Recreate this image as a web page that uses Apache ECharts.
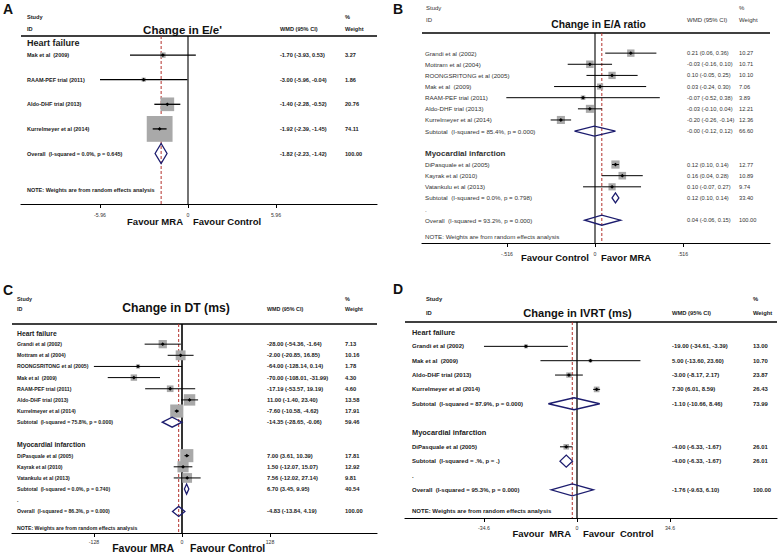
<!DOCTYPE html>
<html><head><meta charset="utf-8">
<script src="https://cdn.jsdelivr.net/npm/echarts@6/dist/echarts.min.js"></script>
<style>html,body{margin:0;padding:0;background:#fff}#main{width:778px;height:554px}</style>
</head><body><div id="main"></div>
<script>
// ================= DATA =================
const NOTE = "NOTE: Weights are from random effects analysis";

// Panel A : Change in E/e'
const A_labels = ["Heart failure","Mak et al  (2009)","RAAM-PEF trial (2011)","Aldo-DHF trial (2013)","Kurrelmeyer et al (2014)","Overall  (I-squared = 0.0%, p = 0.645)",NOTE];
const A_kind   = ["head","study","study","study","study","overall","note"];
const A_est    = [null,-1.70,-3.00,-1.40,-1.92,-1.82,null];
const A_lo     = [null,-3.93,-5.96,-2.28,-2.39,-2.23,null];
const A_hi     = [null, 0.53,-0.04,-0.52,-1.45,-1.42,null];
const A_wt     = [null, 3.27, 1.86,20.76,74.11,100.00,null];
const A_ticks  = [-5.96,0,5.96];
const A_tickLabels = ["-5.96","0","5.96"];

// Panel B : Change in E/A ratio
const B_labels = ["","Grandi et al (2002)","Mottram et al (2004)","ROONGSRITONG et al (2005)","Mak et al  (2009)","RAAM-PEF trial (2011)","Aldo-DHF trial (2013)","Kurrelmeyer et al (2014)","Subtotal  (I-squared = 85.4%, p = 0.000)","","Myocardial infarction","DiPasquale et al (2005)","Kayrak et al (2010)","Vatankulu et al (2013)","Subtotal  (I-squared = 0.0%, p = 0.798)",".","Overall  (I-squared = 93.2%, p = 0.000)",NOTE];
const B_kind   = ["blank","study","study","study","study","study","study","study","sub","blank","head","study","study","study","sub","dot","overall","note"];
const B_est    = [null,0.21,-0.03,0.10,0.03,-0.07,-0.03,-0.20,-0.004,null,null,0.12,0.16,0.10,0.12,null,0.04,null];
const B_lo     = [null,0.06,-0.16,-0.05,-0.24,-0.52,-0.10,-0.26,-0.12,null,null,0.10,0.04,-0.07,0.10,null,-0.06,null];
const B_hi     = [null,0.36,0.10,0.25,0.30,0.38,0.04,-0.14,0.12,null,null,0.14,0.28,0.27,0.14,null,0.15,null];
const B_wt     = [null,10.27,10.71,10.10,7.06,3.89,12.21,12.36,66.60,null,null,12.77,10.89,9.74,33.40,null,100.00,null];
const B_ticks  = [-0.516,0,0.516];
const B_tickLabels = ["-.516","0",".516"];

// Panel C : Change in DT (ms)
const C_labels = ["Heart failure","Grandi et al (2002)","Mottram et al (2004)","ROONGSRITONG et al (2005)","Mak et al  (2009)","RAAM-PEF trial (2011)","Aldo-DHF trial (2013)","Kurrelmeyer et al (2014)","Subtotal  (I-squared = 75.8%, p = 0.000)","","Myocardial infarction","DiPasquale et al (2005)","Kayrak et al (2010)","Vatankulu et al (2013)","Subtotal  (I-squared = 0.0%, p = 0.740)",".","Overall  (I-squared = 86.3%, p = 0.000)",NOTE];
const C_kind   = ["head","study","study","study","study","study","study","study","sub","blank","head","study","study","study","sub","dot","overall","note"];
const C_est    = [null,-28.00,-2.00,-64.00,-70.00,-17.19,11.00,-7.60,-14.35,null,null,7.00,1.50,7.56,6.70,null,-4.83,null];
const C_lo     = [null,-54.36,-20.85,-128.14,-108.01,-53.57,-1.40,-10.58,-28.65,null,null,3.61,-12.07,-12.02,3.45,null,-13.84,null];
const C_hi     = [null,-1.64,16.85,0.14,-31.99,19.19,23.40,-4.62,-0.06,null,null,10.39,15.07,27.14,9.95,null,4.19,null];
const C_wt     = [null,7.13,10.16,1.78,4.30,4.60,13.58,17.91,59.46,null,null,17.81,12.92,9.81,40.54,null,100.00,null];
const C_ticks  = [-128,0,128];
const C_tickLabels = ["-128","0","128"];

// Panel D : Change in IVRT (ms)
const D_labels = ["Heart failure","Grandi et al (2002)","Mak et al  (2009)","Aldo-DHF trial (2013)","Kurrelmeyer et al (2014)","Subtotal  (I-squared = 87.9%, p = 0.000)","","Myocardial infarction","DiPasquale et al (2005)","Subtotal  (I-squared = .%, p = .)",".","Overall  (I-squared = 95.3%, p = 0.000)",NOTE];
const D_kind   = ["head","study","study","study","study","sub","blank","head","study","sub","dot","overall","note"];
const D_est    = [null,-19.00,5.00,-3.00,7.30,-1.10,null,null,-4.00,-4.00,null,-1.76,null];
const D_lo     = [null,-34.61,-13.60,-8.17,6.01,-10.66,null,null,-6.33,-6.33,null,-9.63,null];
const D_hi     = [null,-3.39,23.60,2.17,8.59,8.46,null,null,-1.67,-1.67,null,6.10,null];
const D_wt     = [null,13.00,10.70,23.87,26.43,73.99,null,null,26.01,26.01,null,100.00,null];
const D_ticks  = [-34.6,0,34.6];
const D_tickLabels = ["-34.6","0","34.6"];

// ================= LAYOUT =================
const FONT = '"Liberation Sans", Arial, Helvetica, sans-serif';
const panels = [
  {letter:"A", title:"Change in E/e'", labels:A_labels, kind:A_kind, est:A_est, lo:A_lo, hi:A_hi, wt:A_wt, ticks:A_ticks, tickLabels:A_tickLabels,
   favL:"Favour MRA", favR:"Favour Control",
   L:{letterX:3,letterY:2,y0:30.5,step:24.6,headShift:0.5,hdrY:36,axisY:204,zero:188,tickPx:276,axL:21,axR:377,
      nameX:27,hdrX:27,wmdX:280,wtX:345,studyY:17,idY:29,titleX:182.5,titleY:30,titleSize:11.5,favY:221,favGap:5,
      rowFont:5.5,numFont:5.6,txtWeight:'bold',txtColor:'#1a1a1a',headFont:9,hdrFont:5.6,boxK:3.0,favFont:9.5,tickFont:5.2,tickMargin:8,diaH:10,zeroW:1.1,ciW:1.3}},
  {letter:"B", title:"Change in E/A ratio", labels:B_labels, kind:B_kind, est:B_est, lo:B_lo, hi:B_hi, wt:B_wt, ticks:B_ticks, tickLabels:B_tickLabels,
   favL:"Favour Control", favR:"Favor MRA",
   L:{letterX:393,letterY:2,y0:42,step:11.14,headShift:0,hdrY:33,axisY:243,zero:595,tickPx:683,axL:422,axR:770,
      nameX:425,hdrX:426,wmdX:687,wtX:739,studyY:8,idY:20,titleX:598.5,titleY:24,titleSize:10.3,favY:257,favGap:6,
      rowFont:6.2,numFont:5.7,txtWeight:'normal',txtColor:'#333',headFont:8,hdrFont:6.0,boxK:2.3,favFont:9.5,tickFont:5.2,tickMargin:8,diaH:5,zeroW:1.1,ciW:1}},
  {letter:"C", title:"Change in DT (ms)", labels:C_labels, kind:C_kind, est:C_est, lo:C_lo, hi:C_hi, wt:C_wt, ticks:C_ticks, tickLabels:C_tickLabels,
   favL:"Favour MRA", favR:"Favour Control",
   L:{letterX:3,letterY:283,y0:333,step:11.15,headShift:0,hdrY:324,axisY:533,zero:182,tickPx:270,axL:12,axR:377,
      nameX:17,hdrX:17,wmdX:267,wtX:345,studyY:299,idY:309,titleX:176,titleY:308,titleSize:12.2,favY:548,favGap:8,
      rowFont:5.2,numFont:5.8,txtWeight:'bold',txtColor:'#222',headFont:6.8,hdrFont:5.4,boxK:3.1,favFont:10.5,tickFont:5.2,tickMargin:6,diaH:5,zeroW:1.6,ciW:1}},
  {letter:"D", title:"Change in IVRT (ms)", labels:D_labels, kind:D_kind, est:D_est, lo:D_lo, hi:D_hi, wt:D_wt, ticks:D_ticks, tickLabels:D_tickLabels,
   favL:"Favour  MRA", favR:"Favour  Control",
   L:{letterX:393,letterY:282,y0:332,step:14.35,headShift:0,hdrY:322,axisY:518,zero:577,tickPx:670,axL:405,axR:777,
      nameX:412,hdrX:426,wmdX:672,wtX:753,studyY:299,idY:313,titleX:577.5,titleY:313,titleSize:11.1,favY:533,favGap:6,
      rowFont:6.0,numFont:5.9,txtWeight:'bold',txtColor:'#222',headFont:7.4,hdrFont:5.8,boxK:1.1,favFont:9.5,tickFont:5.2,tickMargin:7,diaH:6,zeroW:1.3,ciW:1}}
];

const fmt = v => v.toFixed(2);
const opt = {animation:false, backgroundColor:'#fff', grid:[], xAxis:[], yAxis:[], series:[], graphic:[], title:[]};

function gText(x, y, text, size, weight, align, color){
  return {type:'text', x:x, y:y, silent:true,
    style:{text:text, fontSize:size, fontWeight:weight||'normal', fontFamily:FONT, fill:color||'#1a1a1a',
           align:align||'left', textAlign:align||'left', verticalAlign:'middle', textVerticalAlign:'middle'}};
}

panels.forEach((p, gi) => {
  const L = p.L;
  const scale = (L.tickPx - L.zero) / p.ticks[2];
  const xMin = (L.axL - L.zero) / scale, xMax = (L.axR - L.zero) / scale;
  const yMin = (L.hdrY - L.y0) / L.step, yMax = (L.axisY - L.y0) / L.step;
  opt.grid.push({left:L.axL, top:L.hdrY, width:L.axR - L.axL, height:L.axisY - L.hdrY, containLabel:false, outerBoundsMode:'none'});
  opt.xAxis.push({gridIndex:gi, type:'value', min:xMin, max:xMax, position:'bottom',
    axisLine:{show:true, onZero:false, lineStyle:{color:'#000', width:1.2}},
    axisTick:{show:true, customValues:p.ticks, length:4, lineStyle:{color:'#000', width:1}},
    axisLabel:{show:true, customValues:p.ticks, margin:L.tickMargin, fontSize:L.tickFont, color:'#333', fontFamily:FONT,
      formatter: v => { const k = p.ticks.findIndex(t => Math.abs(t - v) < 1e-6); return k >= 0 ? p.tickLabels[k] : ''; }},
    splitLine:{show:false}});
  opt.yAxis.push({gridIndex:gi, type:'value', inverse:true, min:yMin, max:yMax, show:false});

  const pos = p.kind.map((k, i) => i + (k === 'note' ? 0.5 : 0) + (k === 'head' ? L.headShift : 0));
  const ovIdx = p.kind.indexOf('overall');

  opt.series.push({type:'custom', xAxisIndex:gi, yAxisIndex:gi, clip:false, silent:true, z:3,
    encode:{x:0, y:1},
    data: p.kind.map((k, i) => [p.est[i] == null ? 0 : p.est[i], pos[i], p.lo[i] == null ? 0 : p.lo[i], p.hi[i] == null ? 0 : p.hi[i], p.wt[i] == null ? 0 : p.wt[i]]),
    renderItem: (params, api) => {
      const i = params.dataIndex, k = p.kind[i];
      const y = api.coord([0, pos[i]])[1];
      const ch = [];
      if (i === 0) {
        // reference lines: no effect (0) and pooled overall estimate, full plot height
        const cs = params.coordSys, top = cs.y, bot = cs.y + cs.height;
        const x0 = api.coord([0, pos[i]])[0];
        const xo = api.coord([p.est[ovIdx], pos[i]])[0];
        ch.push({type:'line', shape:{x1:x0, y1:top, x2:x0, y2:bot}, style:{stroke:'#000', lineWidth:L.zeroW}});
        ch.push({type:'line', shape:{x1:xo, y1:top, x2:xo, y2:bot}, style:{stroke:'#b3312c', lineWidth:1, lineDash:[3,2]}});
      }
      const t = (x, text, size, weight) => ({type:'text', style:{x:x, y:y, text:text, fontSize:size, fontWeight:weight||L.txtWeight, fontFamily:FONT, fill:L.txtColor, align:'left', verticalAlign:'middle'}});
      if (k === 'head') ch.push(t(L.nameX, p.labels[i], L.headFont, 'bold'));
      else if (k === 'dot' || k === 'note') ch.push(t(L.nameX, p.labels[i], L.rowFont));
      else if (k === 'study' || k === 'sub' || k === 'overall') {
        const cx = api.coord([p.est[i], pos[i]])[0];
        const xl = api.coord([p.lo[i], pos[i]])[0];
        const xh = api.coord([p.hi[i], pos[i]])[0];
        if (k === 'study') {
          const s = L.boxK * Math.sqrt(p.wt[i]);
          ch.push({type:'rect', shape:{x:cx - s/2, y:y - s/2, width:s, height:s}, style:{fill:'#a9a9a9'}});
          ch.push({type:'line', shape:{x1:xl, y1:y, x2:xh, y2:y}, style:{stroke:'#000', lineWidth:L.ciW}});
          ch.push({type:'polygon', shape:{points:[[cx-1.9,y],[cx,y-1.9],[cx+1.9,y],[cx,y+1.9]]}, style:{fill:'#000'}});
        } else {
          ch.push({type:'polygon', shape:{points:[[xl,y],[cx,y-L.diaH],[xh,y],[cx,y+L.diaH]]}, style:{fill:'rgba(0,0,0,0)', stroke:'#1c1c6e', lineWidth:1.3}});
        }
        ch.push(t(L.nameX, p.labels[i], L.rowFont));
        ch.push(t(L.wmdX, fmt(p.est[i]) + ' (' + fmt(p.lo[i]) + ', ' + fmt(p.hi[i]) + ')', L.numFont));
        ch.push(t(L.wtX, fmt(p.wt[i]), L.numFont));
      }
      return {type:'group', children:ch};
    }});

  // panel letter, title, column headers, separator, favour labels
  opt.title.push({text:p.letter, left:L.letterX, top:L.letterY, padding:0, textStyle:{fontSize:14, fontWeight:'bold', fontFamily:FONT, color:'#111'}});
  opt.graphic.push(gText(L.titleX, L.titleY, p.title, L.titleSize, 'bold', 'center', '#111'));
  opt.graphic.push(gText(L.hdrX, L.studyY, 'Study', L.hdrFont, L.txtWeight, 'left', L.txtColor));
  opt.graphic.push(gText(L.hdrX, L.idY, 'ID', L.hdrFont, L.txtWeight, 'left', L.txtColor));
  opt.graphic.push(gText(L.wmdX, L.idY, 'WMD (95% CI)', L.hdrFont, L.txtWeight, 'left', L.txtColor));
  opt.graphic.push(gText(L.wtX, L.studyY, '%', L.hdrFont, L.txtWeight, 'left', L.txtColor));
  opt.graphic.push(gText(L.wtX, L.idY, 'Weight', L.hdrFont, L.txtWeight, 'left', L.txtColor));
  opt.graphic.push({type:'line', silent:true, shape:{x1:L.axL, y1:L.hdrY, x2:L.axR, y2:L.hdrY}, style:{stroke:'#000', lineWidth:1.5}});
  opt.graphic.push(gText(L.zero - L.favGap, L.favY, p.favL, L.favFont, 'bold', 'right', '#111'));
  opt.graphic.push(gText(L.zero + L.favGap, L.favY, p.favR, L.favFont, 'bold', 'left', '#111'));
});

const chart = echarts.init(document.getElementById('main'), null, {renderer:'svg', width:778, height:554});
chart.setOption(opt);
</script>
</body></html>
